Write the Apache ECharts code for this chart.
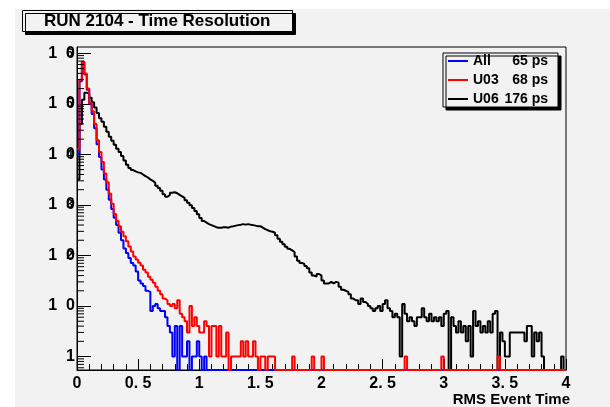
<!DOCTYPE html>
<html><head><meta charset="utf-8">
<script src="https://cdn.jsdelivr.net/npm/echarts/dist/echarts.min.js"></script>
<style>html,body{margin:0;padding:0;background:#fff}#c{width:610px;height:407px}</style>
</head><body><div id="c"></div>
<script>
// ---- data (histogram bin contents, bins of 0.02 from 0 to 4) ----
const binWidth = 0.02;
const xMin = 0, xMax = 4;
const seriesNames = ['All', 'U03', 'U06'];
const resolutions = ['65 ps', '68 ps', '176 ps'];
const seriesColors = ['#0000ff', '#ff0000', '#000000'];
const xTickLabels = ['0', '0. 5', '1', '1. 5', '2', '2. 5', '3', '3. 5', '4'];
const yDecades = [0, 1, 2, 3, 4, 5, 6];
const yMinorMultipliers = [2, 3, 4, 5, 6, 7, 8, 9];
const yBelowOneMinor = [0.6, 0.7, 0.8, 0.9];

const countsAll = [
  10000, 280000, 660000, 380000, 190000, 100000, 63000, 33000, 15800, 8900,
  5000, 3200, 2000, 1260, 830, 560, 400, 280, 200, 138,
  112, 89, 71, 63, 48, 32, 28, 25, 20, 19,
  8, 10, 11, 9, 8, 8, 6, 4, 3, 1,
  4, 0, 4, 1, 1, 2, 0, 1, 1, 2,
  1, 0, 1, 0, 0, 0, 0, 0, 0, 0,
  0, 0, 0, 0, 0, 0, 0, 0, 0, 0,
  0, 0, 0, 0, 0, 0, 0, 0, 0, 0,
  0, 0, 0, 0, 0, 0, 0, 0, 0, 0,
  0, 0, 0, 0, 0, 0, 0, 0, 0, 0,
  0, 0, 0, 0, 0, 0, 0, 0, 0, 0,
  0, 0, 0, 0, 0, 0, 0, 0, 0, 0,
  0, 0, 0, 0, 0, 0, 0, 0, 0, 0,
  0, 0, 0, 0, 0, 0, 0, 0, 0, 0,
  0, 0, 0, 0, 0, 0, 0, 0, 0, 0,
  0, 0, 0, 0, 0, 0, 0, 0, 0, 0,
  0, 0, 0, 0, 0, 0, 0, 0, 0, 0,
  0, 0, 0, 0, 0, 0, 0, 0, 0, 0,
  0, 0, 0, 0, 0, 0, 0, 0, 0, 0,
  0, 0, 0, 0, 0, 0, 0, 0, 0, 0
];
const countsU03 = [
  12600, 300000, 676000, 398000, 200000, 105000, 71000, 40000, 19000, 11200,
  7100, 4200, 2800, 1660, 1050, 660, 480, 380, 295, 240,
  190, 151, 120, 95, 83, 72, 63, 52, 46, 38,
  33, 29, 24, 20, 17, 14, 13, 11, 10, 11,
  9, 13, 7, 6, 5, 3, 10, 4, 6, 4,
  3, 3, 5, 4, 1, 4, 4, 1, 4, 1,
  1, 3, 0, 1, 1, 1, 1, 2, 1, 2,
  1, 1, 2, 1, 0, 1, 1, 0, 1, 1,
  1, 0, 0, 0, 0, 0, 0, 0, 1, 0,
  0, 0, 0, 0, 0, 0, 1, 0, 0, 0,
  1, 0, 0, 0, 0, 0, 0, 0, 0, 0,
  0, 0, 0, 0, 0, 0, 0, 0, 0, 0,
  0, 0, 0, 0, 0, 0, 0, 0, 0, 0,
  0, 0, 0, 0, 1, 0, 0, 0, 0, 0,
  0, 0, 0, 0, 0, 0, 0, 0, 0, 1,
  0, 0, 0, 0, 0, 0, 0, 0, 0, 0,
  0, 0, 0, 0, 0, 0, 0, 0, 0, 0,
  0, 0, 1, 0, 0, 0, 0, 0, 0, 0,
  0, 0, 0, 0, 0, 0, 0, 0, 0, 0,
  0, 0, 0, 0, 0, 0, 0, 0, 0, 0
];
const countsU06 = [
  3200, 40000, 120000, 166000, 158000, 132000, 107000, 85000, 66000, 52000,
  44000, 35000, 28000, 22400, 18600, 15500, 12900, 11200, 9300, 7600,
  6200, 5400, 4900, 4600, 4400, 4300, 4000, 3700, 3500, 3200,
  3000, 2750, 2400, 2150, 1900, 1620, 1450, 1580, 1740, 1780,
  1700, 1580, 1480, 1380, 1230, 1100, 980, 870, 760, 650,
  550, 480, 447, 417, 398, 380, 363, 355, 355, 363,
  363, 355, 372, 380, 389, 398, 407, 417, 407, 417,
  407, 398, 389, 380, 380, 355, 331, 316, 302, 295,
  282, 251, 214, 186, 166, 148, 135, 126, 117, 95,
  79, 71, 68, 62, 56, 46, 40, 38, 43, 40,
  32, 28, 28, 30, 28, 30, 29, 24, 21, 20,
  19, 17, 14, 13, 13, 11, 14, 12, 11, 10,
  9, 8, 9, 10, 8, 11, 13, 9, 8, 6,
  7, 6, 1, 11, 7, 5, 6, 5, 4, 6,
  6, 9, 6, 5, 7, 5, 6, 5, 6, 4,
  7, 8, 0, 6, 4, 3, 5, 3, 4, 2,
  4, 1, 8, 4, 5, 3, 4, 3, 5, 3,
  7, 8, 0, 3, 2, 1, 1, 3, 3, 3,
  3, 3, 3, 2, 4, 4, 1, 3, 2, 3,
  1, 0, 0, 0, 0, 0, 0, 0, 1, 0
];

// ---- axis range ----
const Y_MIN = Math.pow(10, -0.266);
const Y_MAX = Math.pow(10, 6.124);

function toSteps(counts) {
  const pts = counts.map((c, i) => [+(i * binWidth).toFixed(3), c > 0 ? c : Y_MIN]);
  pts.push([xMax, pts[pts.length - 1][1]]);
  return pts;
}
const minorTickValues = [];
yBelowOneMinor.forEach(v => minorTickValues.push(v));
yDecades.forEach(d => yMinorMultipliers.forEach(m => {
  const v = m * Math.pow(10, d);
  if (v < Y_MAX) minorTickValues.push(v);
}));

const FONT = 'Liberation Sans';
function decadeOf(v) {
  const l = Math.log10(v);
  const e = Math.round(l);
  return Math.abs(l - e) < 1e-6 ? e : null;
}

const chart = echarts.init(document.getElementById('c'), null, {renderer: 'canvas'});
const datasets = [countsAll, countsU03, countsU06];
const drawOrder = [2, 0, 1];
const series = drawOrder.map(k => ({
  name: seriesNames[k],
  type: 'line',
  step: 'end',
  showSymbol: false,
  symbol: 'none',
  clip: true,
  data: toSteps(datasets[k]),
  lineStyle: {color: seriesColors[k], width: 2},
  itemStyle: {color: seriesColors[k]},
  z: 3 + drawOrder.indexOf(k),
  animation: false
}));
series.push({
  type: 'custom',
  silent: true,
  data: minorTickValues.map(v => [0, v]),
  renderItem: (params, api) => {
    const p = api.coord([0, api.value(1)]);
    return {type: 'line', shape: {x1: p[0], y1: p[1], x2: p[0] + 7, y2: p[1]},
            style: {stroke: '#000', lineWidth: 1}};
  },
  z: 10,
  animation: false
});

const option = {
  animation: false,
  backgroundColor: '#ffffff',
  graphic: [
    {type: 'rect', left: 15, top: 9, shape: {width: 595, height: 398}, style: {fill: '#f2f2f2'}, z: -10, silent: true}
  ],
  title: {
    text: 'RUN 2104 - Time Resolution',
    left: 22, top: 10,
    padding: [3, 22, 2, 22],
    backgroundColor: '#f2f2f2',
    borderColor: '#000', borderWidth: 1,
    shadowColor: '#000', shadowOffsetX: 3, shadowOffsetY: 3, shadowBlur: 0,
    textStyle: {fontFamily: FONT, fontWeight: 'bold', fontSize: 17, color: '#000', lineHeight: 17}
  },
  legend: {
    data: seriesNames,
    orient: 'vertical',
    left: 443, top: 53,
    padding: [1, 10, 1, 5],
    itemGap: 5,
    itemWidth: 20, itemHeight: 2,
    icon: 'rect',
    backgroundColor: '#f2f2f2',
    borderColor: '#000', borderWidth: 1,
    shadowColor: '#000', shadowOffsetX: 3, shadowOffsetY: 3, shadowBlur: 0,
    formatter: name => {
      const i = seriesNames.indexOf(name);
      return '{n|' + name + '}{v|' + resolutions[i] + '}';
    },
    textStyle: {
      fontFamily: FONT, fontWeight: 'bold', fontSize: 14, color: '#000', lineHeight: 14,
      rich: {
        n: {fontFamily: FONT, fontWeight: 'bold', fontSize: 14, width: 31, lineHeight: 14},
        v: {fontFamily: FONT, fontWeight: 'bold', fontSize: 14, width: 44, align: 'right', lineHeight: 14}
      }
    }
  },
  grid: {left: 77, right: 44, top: 47, bottom: 36, show: true, borderColor: '#000', borderWidth: 1, backgroundColor: 'transparent', containLabel: false},
  xAxis: {
    type: 'value', min: xMin, max: xMax, interval: 0.5,
    name: 'RMS Event Time',
    nameLocation: 'end', nameGap: 4,
    nameTextStyle: {fontFamily: FONT, fontWeight: 'bold', fontSize: 15, color: '#000', align: 'right', verticalAlign: 'top', padding: [22, 0, 0, 0]},
    axisLine: {show: true, lineStyle: {color: '#000', width: 1}},
    axisTick: {show: true, inside: true, length: 11, lineStyle: {color: '#000'}},
    minorTick: {show: true, splitNumber: 5, length: 6, lineStyle: {color: '#000'}},
    splitLine: {show: false},
    axisLabel: {
      margin: 6, color: '#000', fontFamily: FONT, fontWeight: 'bold', fontSize: 16,
      formatter: v => xTickLabels[Math.round(v / 0.5)]
    }
  },
  yAxis: [
    {
      type: 'log', min: Y_MIN, max: Y_MAX, logBase: 10,
      axisLine: {show: true, lineStyle: {color: '#000', width: 1}},
      axisTick: {show: true, inside: true, length: 14, lineStyle: {color: '#000'}},
      splitLine: {show: false},
      axisLabel: {
        margin: 2, color: '#000', fontFamily: FONT, fontWeight: 'bold', fontSize: 16,
        showMinLabel: false, showMaxLabel: false,
        verticalAlign: 'middle', padding: [7, 0, 0, 0],
        formatter: v => {
          const e = decadeOf(v);
          if (e === null) return '';
          return e === 0 ? '1' : '1  0';
        }
      }
    },
    {
      type: 'log', min: Y_MIN, max: Y_MAX, logBase: 10, position: 'left',
      axisLine: {show: false}, axisTick: {show: false}, splitLine: {show: false},
      axisLabel: {
        margin: 4, color: '#000', fontFamily: FONT, fontWeight: 'bold', fontSize: 12,
        showMinLabel: false, showMaxLabel: false,
        verticalAlign: 'middle', padding: [0, 0, 6, 0],
        formatter: v => {
          const e = decadeOf(v);
          return (e !== null && e >= 2) ? String(e) : '';
        }
      }
    }
  ],
  series: series
};
chart.setOption(option);
</script>
</body></html>
